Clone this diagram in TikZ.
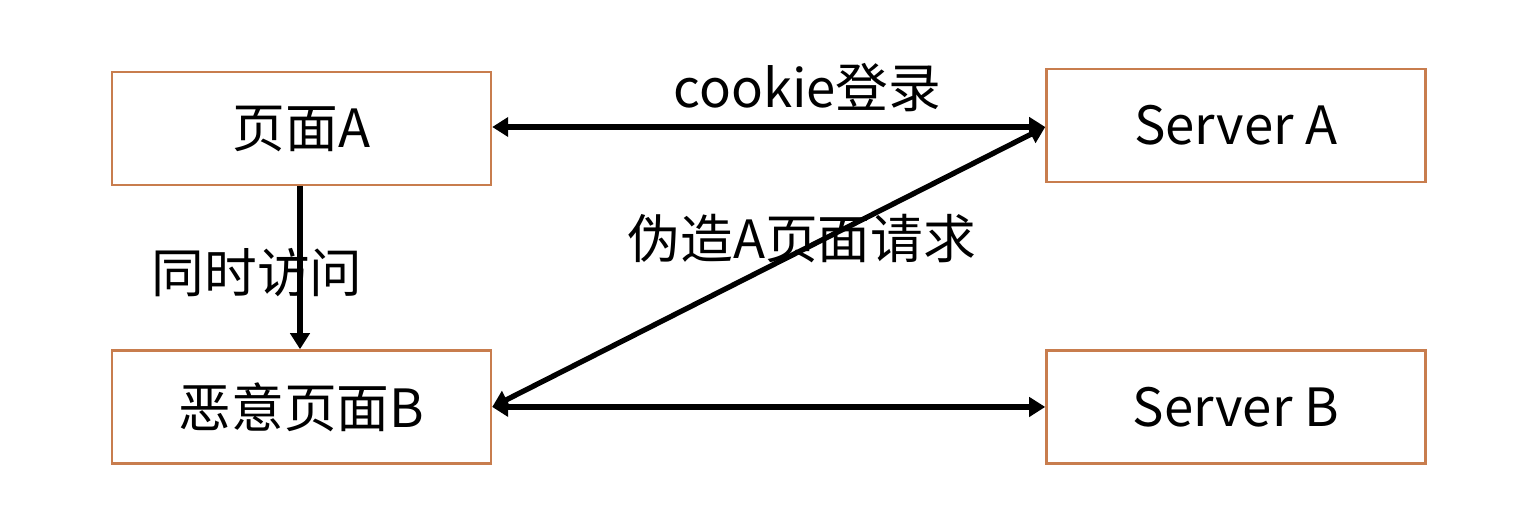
\documentclass[tikz,border=0pt]{standalone}
\usepackage{fontspec}
\setmainfont{Noto Sans CJK SC}
\usepackage{tikz}
\usetikzlibrary{positioning, arrows.meta}

\definecolor{boxorange}{RGB}{200,125,78}

\begin{document}
\begin{tikzpicture}[
                node distance=3.26cm and 11.06cm,
                box/.style={
                  draw=boxorange, line width=1.4pt,
                  minimum width=7.58cm, minimum height=2.26cm,
                  font=\fontsize{30}{36}\selectfont
                },
                lbl/.style={font=\fontsize{30}{36}\selectfont, inner sep=0pt},
                arrow/.style={draw, line width=3pt, -{Triangle[length=0.32cm, width=0.38cm]}},
                biarrow/.style={draw, line width=3pt, {Triangle[length=0.32cm, width=0.38cm]}-{Triangle[length=0.32cm, width=0.38cm]}}
              ]
              \useasboundingbox (0,0) rectangle (30.76,10.16);

              \node (pageA) [box] at (6.03,7.59) {页面A};
              \node (srvA) [box, right=of pageA, yshift=0.06cm] {Server A};
              \node (pageB) [box, below=of pageA] {恶意页面B};
              \node (srvB) [box, right=of pageB] {Server B};

              % Draw arrows
              \draw[biarrow] (pageA.east |- 0,7.62) -- node[lbl, pos=0.57, above=0.26cm] {cookie登录} (srvA.west |- 0,7.62);
              \draw[biarrow] (pageB.east) -- node[lbl, pos=0.56, yshift=0.24cm] {伪造A页面请求} (srvA.west |- 0,7.62);
              \draw[biarrow] (pageB.east) -- (srvB.west);
              \draw[arrow] (pageA.south -| 6.0,0) -- node[lbl, pos=0.53, xshift=-0.86cm] {同时访问} (pageB.north -| 6.0,0);

            \end{tikzpicture}
\end{document}
